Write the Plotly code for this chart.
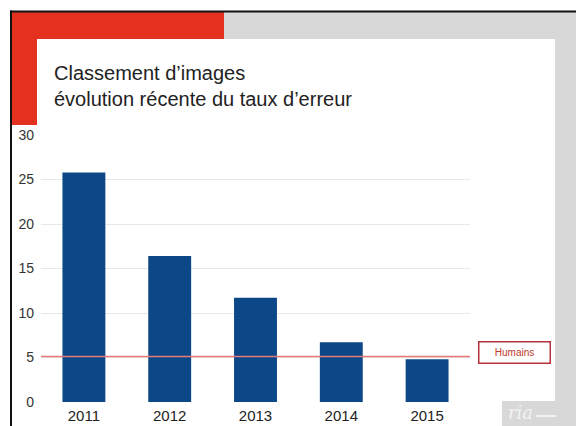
import plotly.graph_objects as go

years = ["2011", "2012", "2013", "2014", "2015"]
error_rate = [25.8, 16.4, 11.7, 6.7, 4.8]
human_rate = 5.1
human_label = "Humains"
title_lines = ["Classement d’images", "évolution récente du taux d’erreur"]
y_ticks = [0, 5, 10, 15, 20, 25, 30]

W, H = 576, 426

def px(x):
    return x / W

def py(y):
    return 1 - y / H

fig = go.Figure()
fig.add_trace(go.Bar(
    x=years, y=error_rate,
    marker=dict(color="#0c4787", line=dict(width=0)),
    width=0.5,
    showlegend=False,
))

shapes = []
def rect(x0, y0, x1, y1, color):
    shapes.append(dict(type="rect", xref="paper", yref="paper",
                       x0=px(x0), x1=px(x1), y0=py(y1), y1=py(y0),
                       fillcolor=color, line=dict(width=0), layer="below"))

rect(224, 12, 576, 426, "#d8d8d8")
rect(11, 12, 224, 39, "#e3301f")
rect(11, 39, 37, 125, "#e3301f")
rect(37, 39, 555, 401, "#ffffff")
rect(11, 125, 502, 426, "#ffffff")
# frame lines
shapes.append(dict(type="line", xref="paper", yref="paper",
                   x0=px(10), x1=px(576), y0=py(11.5), y1=py(11.5),
                   line=dict(color="#111111", width=2), layer="above"))
shapes.append(dict(type="line", xref="paper", yref="paper",
                   x0=px(11), x1=px(11), y0=py(10.5), y1=py(426),
                   line=dict(color="#111111", width=2), layer="above"))
# human level line
shapes.append(dict(type="line", xref="paper", yref="y",
                   x0=px(41), x1=px(470), y0=human_rate, y1=human_rate,
                   line=dict(color="#e67a7a", width=1.5), layer="above"))
# logo dash
shapes.append(dict(type="line", xref="paper", yref="paper",
                   x0=px(536), x1=px(556), y0=py(416), y1=py(416),
                   line=dict(color="#f2f2f2", width=2), layer="above"))

annotations = [
    dict(text=title_lines[0], xref="paper", yref="paper", x=px(52), y=py(73),
         xanchor="left", yanchor="middle", showarrow=False,
         font=dict(family="Liberation Sans", size=20, color="#222222")),
    dict(text=title_lines[1], xref="paper", yref="paper", x=px(52), y=py(99),
         xanchor="left", yanchor="middle", showarrow=False,
         font=dict(family="Liberation Sans", size=20, color="#222222")),
    dict(text=human_label, xref="paper", yref="paper", x=px(514.5), y=py(352),
         xanchor="center", yanchor="middle", showarrow=False,
         font=dict(family="Liberation Sans", size=10, color="#c0392b"),
         bordercolor="#b8323a", borderwidth=1.5, borderpad=4, width=62, height=12,
         bgcolor="#ffffff"),
    dict(text="<i>ria</i>", xref="paper", yref="paper", x=px(506), y=py(412),
         xanchor="left", yanchor="middle", showarrow=False,
         font=dict(family="DejaVu Serif", size=18, color="#f2f2f2")),
]

fig.update_layout(
    width=W, height=H,
    margin=dict(l=0, r=0, t=0, b=0, autoexpand=False),
    paper_bgcolor="#ffffff",
    plot_bgcolor="rgba(0,0,0,0)",
    shapes=shapes,
    annotations=annotations,
    bargap=0.5,
    xaxis=dict(
        domain=[px(41), px(470)],
        showgrid=False, zeroline=False, showline=False,
        tickfont=dict(family="Liberation Sans", size=15, color="#222222"),
        ticks="", ticklabelstandoff=3, automargin=False,
    ),
    yaxis=dict(
        domain=[py(402), py(135)],
        range=[0, 30],
        tickvals=y_ticks,
        showgrid=True, gridcolor="#e8e8e8", gridwidth=1,
        zeroline=False, showline=False,
        tickfont=dict(family="Liberation Sans", size=14, color="#333333"),
        ticks="", ticklabelstandoff=6, automargin=False,
    ),
)

fig.write_html("out.html")
